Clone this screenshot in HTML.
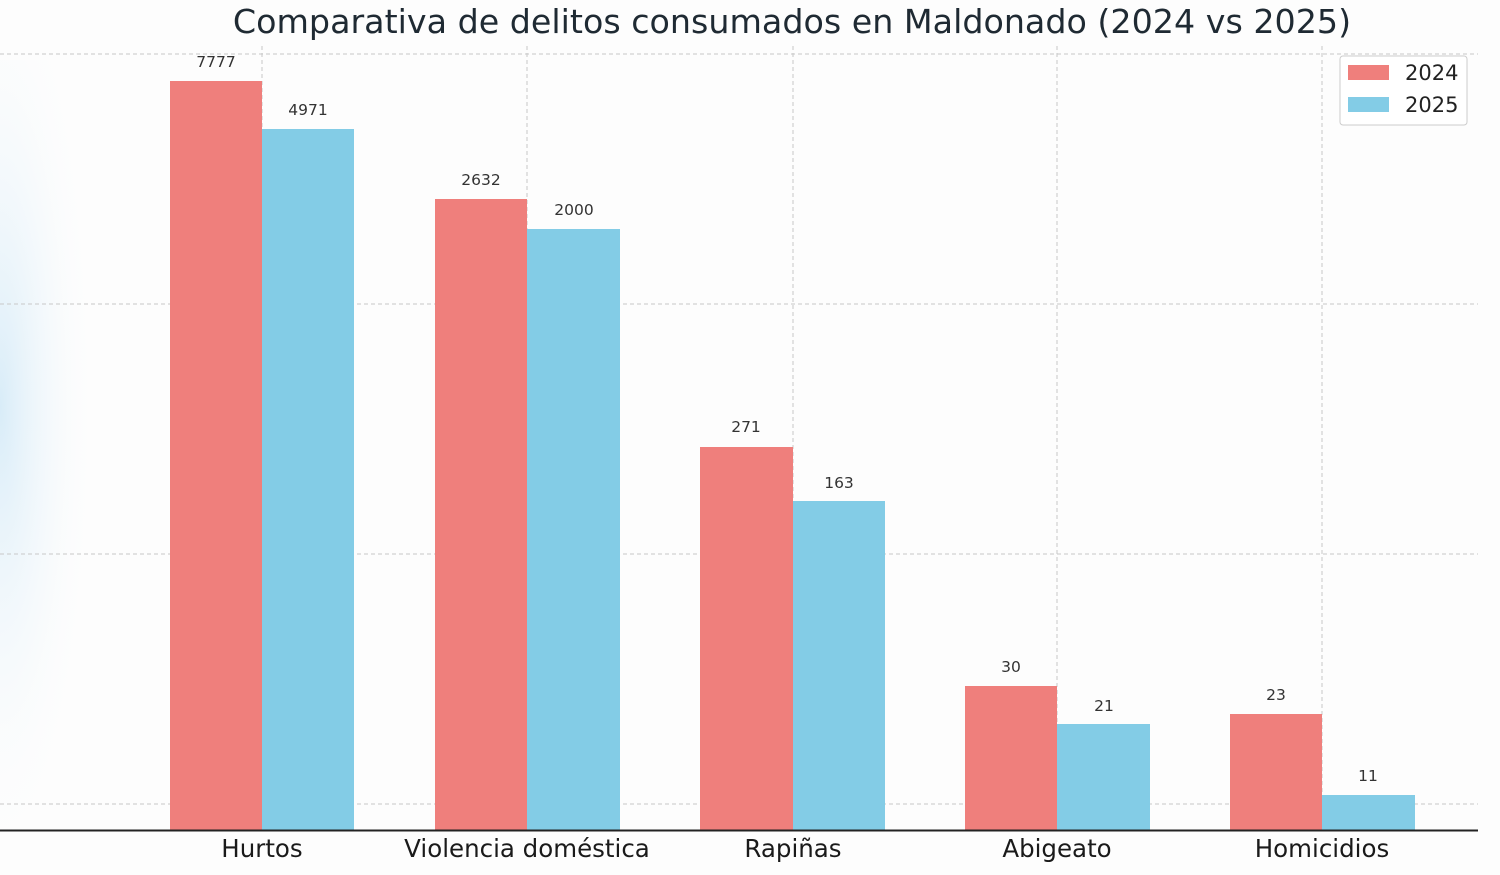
<!DOCTYPE html>
<html><head><meta charset="utf-8"><style>
body{margin:0;width:1500px;height:870px;overflow:hidden;background:#fdfdfd;font-family:"Liberation Sans","DejaVu Sans",sans-serif}
</style></head><body>
<svg width="1500" height="870" xmlns="http://www.w3.org/2000/svg">
<defs>
<radialGradient id="g" cx="0" cy="0.45" r="0.6">
<stop offset="0" stop-color="#d8ecf8"/><stop offset="1" stop-color="#fdfdfd" stop-opacity="0"/>
</radialGradient>
</defs>
<rect width="1500" height="870" fill="#fdfdfd"/>
<rect x="0" y="60" width="160" height="770" fill="url(#g)"/>
<text x="792" y="33" text-anchor="middle" font-family="DejaVu Sans, sans-serif" font-size="33.3" fill="#1f2a33">Comparativa de delitos consumados en Maldonado (2024 vs 2025)</text>
<g stroke="#c8c8c8" stroke-width="1" stroke-dasharray="4,3">
<line x1="0" y1="54" x2="1478" y2="54"/><line x1="0" y1="304" x2="1478" y2="304"/>
<line x1="0" y1="554" x2="1478" y2="554"/><line x1="0" y1="804" x2="1478" y2="804"/>
<line x1="262" y1="46" x2="262" y2="830"/><line x1="527" y1="46" x2="527" y2="830"/>
<line x1="793" y1="46" x2="793" y2="830"/><line x1="1057" y1="46" x2="1057" y2="830"/>
<line x1="1322" y1="46" x2="1322" y2="830"/>
</g>
<g fill="#ef7f7c">
<rect x="170" y="81" width="92" height="749"/><rect x="435" y="199" width="92" height="631"/>
<rect x="700" y="447" width="93" height="383"/><rect x="965" y="686" width="92" height="144"/>
<rect x="1230" y="714" width="92" height="116"/>
</g>
<g fill="#83cce6">
<rect x="262" y="129" width="92" height="701"/><rect x="527" y="229" width="93" height="601"/>
<rect x="793" y="501" width="92" height="329"/><rect x="1057" y="724" width="93" height="106"/>
<rect x="1322" y="795" width="93" height="35"/>
</g>
<line x1="0" y1="830.5" x2="1478" y2="830.5" stroke="#222" stroke-width="2"/>
<g font-family="DejaVu Sans, sans-serif" font-size="15.5" fill="#333" text-anchor="middle">
<text x="216" y="67">7777</text><text x="308" y="115">4971</text>
<text x="481" y="185">2632</text><text x="574" y="215">2000</text>
<text x="746" y="432">271</text><text x="839" y="488">163</text>
<text x="1011" y="672">30</text><text x="1104" y="711">21</text>
<text x="1276" y="700">23</text><text x="1368" y="781">11</text>
</g>
<g font-family="DejaVu Sans, sans-serif" font-size="24.5" fill="#1a1a1a" text-anchor="middle">
<text x="262" y="857">Hurtos</text><text x="527" y="857">Violencia doméstica</text>
<text x="793" y="857">Rapiñas</text><text x="1057" y="857">Abigeato</text>
<text x="1322" y="857">Homicidios</text>
</g>
<rect x="1340" y="56" width="127" height="69" rx="3" fill="#fff" stroke="#ccc"/>
<rect x="1348" y="65" width="41" height="15" fill="#ef7f7c"/>
<rect x="1348" y="97" width="41" height="15" fill="#83cce6"/>
<g font-family="DejaVu Sans, sans-serif" font-size="21" fill="#222">
<text x="1405" y="80">2024</text><text x="1405" y="112">2025</text>
</g>
</svg>
</body></html>
